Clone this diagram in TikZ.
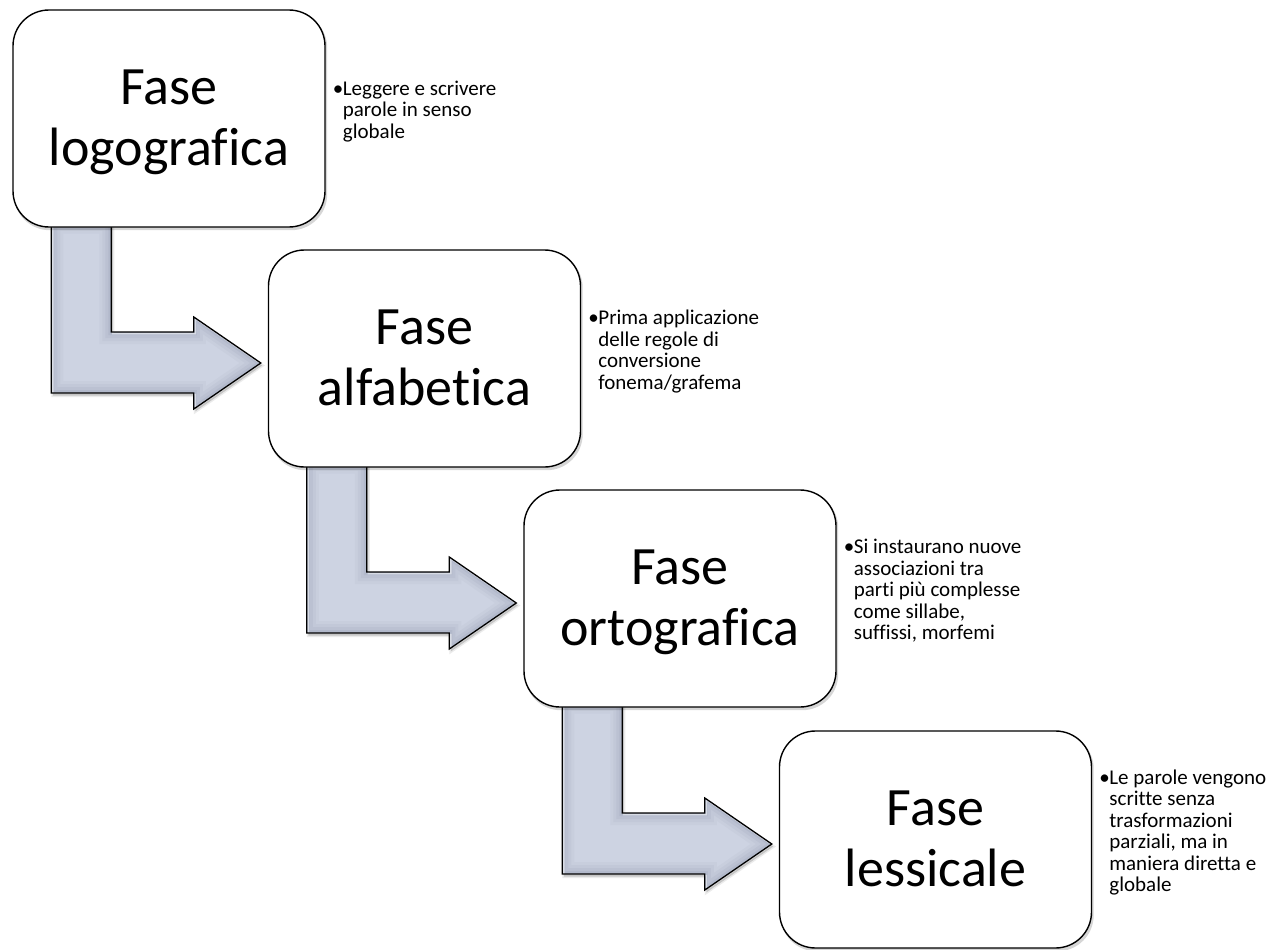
\documentclass[tikz,border=0pt]{standalone}
\usepackage{fontspec}
\setmainfont{Carlito}[Ligatures=NoCommon]
\usetikzlibrary{calc}

\definecolor{arrowfill}{RGB}{205,211,226}
\definecolor{arrowedge}{RGB}{120,128,155}

\pgfdeclarelayer{arrows}
\pgfdeclarelayer{shade}
\pgfsetlayers{arrows,shade,main}

\tikzset{
  phase/.style={draw=black, line width=1.4pt, fill=white, rounded corners=36pt,
    minimum width=312pt, minimum height=217pt, inner sep=0pt, align=center,
    font=\fontsize{54}{61}\selectfont},
  note/.style={anchor=west, inner sep=0pt, font=\fontsize{21}{21.5}\selectfont},
  softshadow/.style={black, opacity=0.16, transform canvas={shift={(1.5pt,-2.5pt)}}},
}

% two-line title of a phase, with fixed line metrics so every box centres alike
\newcommand\phasetitle[2]{\rule{0pt}{44pt}#1\\#2\rule[-12pt]{0pt}{12pt}}

% bulleted list set beside a phase box
\newcommand\bulletlist[1]{\begin{tabular}{@{}p{10pt}@{}l@{}}\textbullet & #1\end{tabular}}

% bent arrow running from the bottom of box #1 to the left side of box #2
\newcommand\ellarrow[2]{%
  \coordinate (sl) at ($(#1.south west)+(39,-6)$);
  \coordinate (sr) at ($(#1.south west)+(99,-6)$);
  \coordinate (tip) at ($(#2.west)+(-7,4.5)$);
  \coordinate (hb) at ($(tip)+(-67,0)$);
  \coordinate (st) at ($(hb)+(0,-31)$);
  \coordinate (sb) at ($(hb)+(0,30)$);
  \coordinate (ht) at ($(hb)+(0,-46)$);
  \coordinate (hd) at ($(hb)+(0,46)$);
  \def\ellpath{(sl) -- (sr) -- (sr |- st) -- (st) -- (ht) -- (tip) -- (hd) -- (sb) -- (sl |- sb) -- cycle}%
  \fill[softshadow] \ellpath;
  \draw[softshadow, line width=3pt, opacity=0.08] \ellpath;
  \begin{scope}
    \clip \ellpath;
    \fill[arrowfill] \ellpath;
    \foreach \w/\o in {24/0.06, 18/0.07, 12/0.09, 6/0.12}
      \draw[arrowedge, line width=\w pt, opacity=\o, line join=miter] \ellpath;
    \draw[white, line width=1.5pt, opacity=0.5, transform canvas={shift={(1.5pt,-1.5pt)}}] \ellpath;
  \end{scope}
  \draw[black, line width=1.3pt, line join=miter] \ellpath;
}

\begin{document}
\begin{tikzpicture}[x=1pt, y=-1pt]
  \useasboundingbox (0,0) rectangle (1270,950);

  % phase boxes
  \node[phase] (box1) at (169,118.5)   {\phasetitle{Fase}{logografica}};
  \node[phase] (box2) at (424.5,358.5) {\phasetitle{Fase}{alfabetica}};
  \node[phase] (box3) at (680,598.5)   {\phasetitle{Fase}{ortografica}};
  \node[phase] (box4) at (935.5,839.5) {\phasetitle{Fase}{lessicale}};

  % soft shadows behind the boxes
  \begin{pgfonlayer}{shade}
    \foreach \b in {box1,box2,box3,box4}
      \fill[softshadow, rounded corners=36pt] (\b.south west) rectangle (\b.north east);
  \end{pgfonlayer}

  % arrows between the phases, running under the boxes
  \begin{pgfonlayer}{arrows}
    \ellarrow{box1}{box2}
    \ellarrow{box2}{box3}
    \ellarrow{box3}{box4}
  \end{pgfonlayer}

  % descriptions
  \node[note] (note1) at ($(box1.east)+(7,-6)$)
    {\bulletlist{Leggere e scrivere\\ & parole in senso\\ & globale}};
  \node[note] (note2) at ($(box2.east)+(7,-6)$)
    {\bulletlist{Prima applicazione\\ & delle regole di\\ & conversione\\ & fonema/grafema}};
  \node[note] (note3) at ($(box3.east)+(7,-6)$)
    {\bulletlist{Si instaurano nuove\\ & associazioni tra\\ & parti più complesse\\ & come sillabe,\\ & suffissi, morfemi}};
  \node[note] (note4) at ($(box4.east)+(7,-6)$)
    {\bulletlist{Le parole vengono\\ & scritte senza\\ & trasformazioni\\ & parziali, ma in\\ & maniera diretta e\\ & globale}};
\end{tikzpicture}
\end{document}
